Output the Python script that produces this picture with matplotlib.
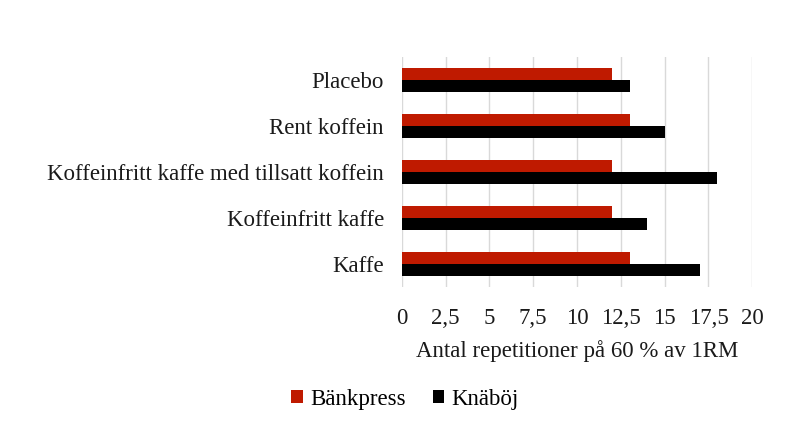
import matplotlib.pyplot as plt
import numpy as np

categories = ['Placebo', 'Rent koffein', 'Koffeinfritt kaffe med tillsatt koffein',
              'Koffeinfritt kaffe', 'Kaffe']
bankpress = [12, 13, 12, 12, 13]
knaboj = [13, 15, 18, 14, 17]
ticks = [0, 2.5, 5, 7.5, 10, 12.5, 15, 17.5, 20]

plt.rcParams['font.family'] = ['Liberation Serif', 'DejaVu Serif']
fs = 16.5

fig = plt.figure(figsize=(7.91, 4.4), dpi=100)
ax = fig.add_axes([0.508, 0.348, 0.443, 0.522])

y = np.arange(len(categories))
h = 0.255
ax.barh(y - h/2, bankpress, h, color='#BF1A00', label='Bänkpress', zorder=3)
ax.barh(y + h/2, knaboj, h, color='#000000', label='Knäböj', zorder=3)

ax.set_ylim(len(categories) - 0.5, -0.5)
ax.set_yticks(y)
ax.set_yticklabels(categories)
ax.set_xlim(0, 20)
ax.set_xticks(ticks)
ax.set_xticklabels([f'{t:g}'.replace('.', ',') for t in ticks])
ax.tick_params(length=0, labelsize=fs, colors='#1a1a1a')
ax.tick_params(axis='y', pad=13)
ax.tick_params(axis='x', pad=15)
ax.grid(axis='x', color='#d9d9d9', linewidth=1, zorder=0)
for s in ax.spines.values():
    s.set_visible(False)
ax.set_xlabel('Antal repetitioner på 60 % av 1RM', fontsize=fs, color='#1a1a1a', labelpad=8)

ax.legend(loc='center', bbox_to_anchor=(405/791, 1 - 399/440), bbox_transform=fig.transFigure,
          ncol=2, frameon=False, fontsize=fs, handlelength=0.5, handleheight=0.5,
          handletextpad=0.3, columnspacing=1.2)

fig.savefig('out.png', dpi=100)
